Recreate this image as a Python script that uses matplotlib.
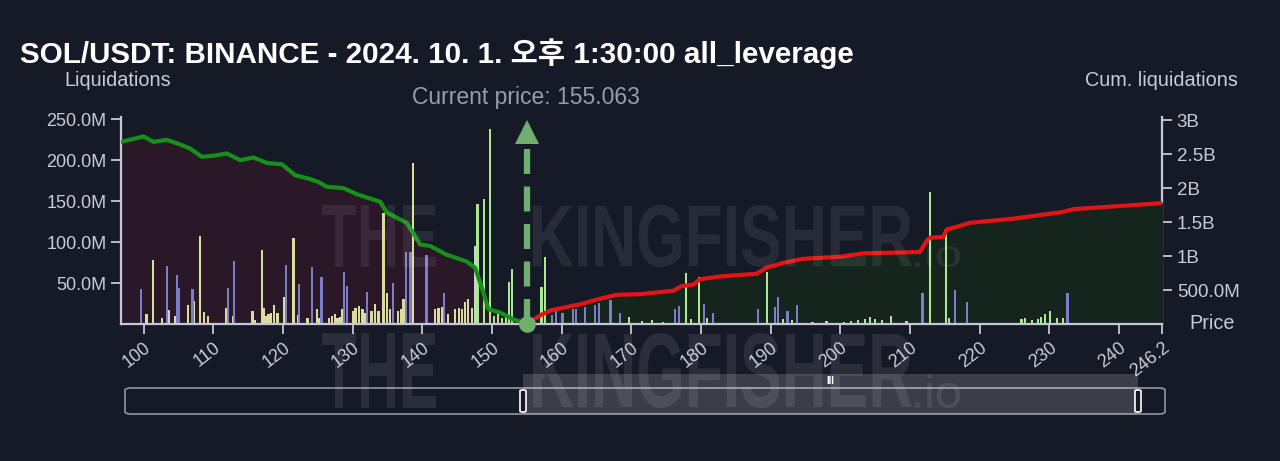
import numpy as np
import matplotlib.pyplot as plt
from matplotlib.patches import FancyBboxPatch, Rectangle, PathPatch
from matplotlib.textpath import TextPath
from matplotlib.font_manager import FontProperties
from matplotlib.transforms import Affine2D

plt.rcParams['font.family'] = ['Liberation Sans', 'Noto Sans CJK KR', 'DejaVu Sans']

BG = '#161a27'
AXC = '#c4c8d4'
W, H = 1280, 461

current_price = 155.063
title = 'SOL/USDT: BINANCE - 2024. 10. 1. 오후 1:30:00 all_leverage'

# liquidation bars (M), by colour
yellow_price = [100.4, 101.3, 102.6, 104.5, 106.3, 107.2, 108.1, 108.7, 109.2, 111.8, 112.8, 115.6,
                116.0, 117.0, 117.3, 117.6, 117.9, 118.3, 118.7, 119.2, 120.2, 121.5, 122.1, 123.5,
                124.9, 125.2, 126.6, 127.0, 127.4, 127.8, 128.2, 128.5, 130.0, 130.4, 130.9, 131.4,
                131.8, 132.7, 133.2, 133.7, 134.4, 134.9, 135.4, 136.5, 136.9, 137.3, 138.6, 141.8,
                142.3, 142.8, 143.7, 144.7, 145.2, 145.7, 146.1, 146.6, 147.1]
yellow_value = [12, 78, 7, 10, 23, 28, 107, 15, 10, 20, 10, 16,
                5, 90, 20, 10, 12, 13, 23, 14, 33, 105, 11, 8,
                18, 8, 7, 10, 12, 8, 9, 19, 16, 20, 22, 18,
                13, 16, 24, 16, 135, 38, 18, 16, 18, 30, 197, 19,
                20, 21, 12, 18, 20, 18, 27, 31, 20]
purple_price = [99.6, 103.3, 104.8, 105.1, 107.0, 112.1, 113.0, 120.4, 122.3, 124.1, 125.5, 128.8,
                129.2, 132.0, 135.8, 137.6, 138.3, 140.6, 143.1,
                158.6, 159.2, 160.1, 161.6, 162.1, 163.3, 164.8, 165.3, 167.0, 168.4, 176.3, 176.8,
                180.4, 181.7, 188.2, 190.6, 191.0, 192.4, 193.8, 211.8, 216.4, 218.2, 232.6]
purple_value = [43, 71, 60, 44, 43, 44, 77, 72, 49, 69, 57, 63,
                47, 39, 50, 88, 88, 84, 38,
                11, 16, 13, 19, 19, 21, 23, 26, 29, 14, 19, 22,
                24, 14, 18, 21, 33, 16, 23, 38, 41, 27, 38]
white_price = [103.6, 147.6]
white_value = [17, 95]
green_price = [147.9, 148.8, 149.7, 150.3, 150.9, 151.4, 152.0, 152.4, 152.9,
               157.1, 157.6, 169.7, 171.5, 173.0, 174.5, 177.8, 178.6, 179.7, 180.9, 189.5, 191.8,
               193.0, 196.0, 198.0, 200.5, 201.5, 202.5, 203.5, 204.3, 205.0, 206.0, 207.3, 209.5,
               212.9, 215.2, 215.6, 226.0, 226.5, 227.5, 228.4, 228.8, 229.4, 230.1, 231.1, 232.0]
green_value = [147, 152, 238, 10, 14, 8, 12, 51, 67,
               45, 82, 9, 4, 5, 3, 62, 6, 58, 8, 64, 6,
               5, 3, 4, 3, 4, 5, 6, 9, 6, 5, 10, 4,
               161, 114, 7, 6, 8, 5, 6, 9, 12, 16, 7, 8]

# cumulative liquidations (B)
short_x = [96.73, 99.97, 101.4, 103.3, 105.0, 106.7, 108.35, 110.26, 111.94, 113.85, 115.75,
           117.68, 119.83, 121.74, 123.64, 125.08, 126.28, 128.67, 130.59, 133.93, 134.89,
           137.76, 139.67, 141.1, 143.5, 146.37, 147.56, 148.52, 149.47, 151.15, 153.06,
           154.49, 155.063]
short_y = [2.68, 2.76, 2.68, 2.71, 2.65, 2.58, 2.46, 2.48, 2.51, 2.41, 2.45,
           2.37, 2.35, 2.19, 2.14, 2.09, 2.02, 2.00, 1.91, 1.80, 1.64,
           1.49, 1.17, 1.15, 1.02, 0.92, 0.83, 0.54, 0.22, 0.17, 0.07,
           0.02, 0.0]
long_x = [155.063, 156.93, 158.36, 160.23, 162.63, 165.02, 167.89, 171.23, 176.01, 177.22,
          178.88, 179.84, 182.71, 187.98, 189.41, 191.79, 194.66, 199.93, 203.27, 211.4,
          212.37, 212.84, 214.75, 215.24, 216.67, 218.58, 224.79, 231.97, 233.4, 239.14, 246.2]
long_y = [0.0, 0.13, 0.20, 0.24, 0.29, 0.36, 0.43, 0.44, 0.49, 0.56,
          0.58, 0.66, 0.70, 0.74, 0.83, 0.90, 0.96, 0.99, 1.04, 1.06,
          1.22, 1.27, 1.28, 1.39, 1.43, 1.49, 1.55, 1.65, 1.69, 1.73, 1.78]

xticks = [100, 110, 120, 130, 140, 150, 160, 170, 180, 190, 200, 210, 220, 230, 240, 246.2]
xticklabels = ['100', '110', '120', '130', '140', '150', '160', '170', '180', '190', '200',
               '210', '220', '230', '240', '246.2']
lticks = [50, 100, 150, 200, 250]
lticklabels = ['50.0M', '100.0M', '150.0M', '200.0M', '250.0M']
rticks = [0.5, 1, 1.5, 2, 2.5, 3]
rticklabels = ['500.0M', '1B', '1.5B', '2B', '2.5B', '3B']

k = 82.9  # M of left axis per B of right axis

fig = plt.figure(figsize=(12.8, 4.61), dpi=100, facecolor=BG)
ax = fig.add_axes([0.0945, 0.297, 0.8135, 0.449], facecolor=BG)

sx = np.array(short_x)
sy = np.array(short_y) * k
lx = np.array(long_x)
ly = np.array(long_y) * k

ax.fill_between(sx, 0, sy, color='#2a1828', zorder=1)
ax.fill_between(lx, 0, ly, color='#15251e', zorder=1)

bw = 0.32
ax.bar(yellow_price, yellow_value, width=bw, color='#d9de9e', zorder=2)
ax.bar(purple_price, purple_value, width=bw, color='#7d7ec8', zorder=2)
ax.bar(white_price, white_value, width=bw, color='#cdd0dc', zorder=2)
ax.bar(green_price, green_value, width=bw, color='#a9ea90', zorder=2)

ax.plot(sx, sy, color='#17901a', lw=3, zorder=4, solid_capstyle='round')
ax.plot(lx, ly, color='#e41414', lw=3, zorder=4, solid_capstyle='round')

# current price arrow
top = 248
ax.plot([current_price, current_price], [0, top - 20], color='#6fae6f', lw=4.5,
        dashes=(4, 2), zorder=5, clip_on=False)
ax.plot([current_price], [top - 14], marker='^', ms=17, color='#6fae6f', zorder=5, clip_on=False,
        markeredgewidth=0)
ax.plot([current_price], [0], marker='o', ms=12, color='#6fae6f', zorder=6, clip_on=False,
        markeredgewidth=0)

ax.set_xlim(96.73, 246.2)
ax.set_ylim(0, 252.4)
ax.set_xticks(xticks)
ax.set_xticklabels(xticklabels, rotation=38, ha='right', rotation_mode='anchor')
ax.set_yticks(lticks)
ax.set_yticklabels(lticklabels)
ax.tick_params(colors=AXC, labelcolor='#c8ccd6', labelsize=13, length=7, width=1.3)
ax.tick_params(axis='x', pad=4)
for s in ['top', 'right']:
    ax.spines[s].set_visible(False)
for s in ['left', 'bottom']:
    ax.spines[s].set_color(AXC)
    ax.spines[s].set_linewidth(1.6)

sec = ax.secondary_yaxis('right', functions=(lambda v: v / k, lambda v: v * k))
sec.set_yticks(rticks)
sec.set_yticklabels(rticklabels)
sec.tick_params(colors=AXC, labelcolor='#c8ccd6', labelsize=13.5, length=7, width=1.3)
sec.spines['right'].set_color(AXC)
sec.spines['right'].set_linewidth(1.6)

# texts
fig.text(0.016, 0.883, title, color='white', fontsize=21.3, fontweight='bold', va='center')
fig.text(0.092, 0.826, 'Liquidations', color='#c8ccd6', fontsize=14.3, ha='center', va='center')
fig.text(0.907, 0.826, 'Cum. liquidations', color='#c8ccd6', fontsize=14.3, ha='center',
         va='center')
fig.text(0.411, 0.789, 'Current price: 155.063', color='#9a9da8', fontsize=16.5, ha='center',
         va='center')
fig.text(0.947, 0.299, 'Price', color='#c8ccd6', fontsize=14.3, ha='center', va='center')


# watermarks, squeezed into a pixel box (x0, x1, top, bottom from the top edge)
def stamp(s, x0, x1, ytop, ybot, alpha, bold=True):
    prop = FontProperties(family='Liberation Sans', weight='bold' if bold else 'normal')
    tp = TextPath((0, 0), s, size=1, prop=prop)
    e = tp.get_extents()
    tr = (Affine2D().translate(-e.x0, -e.y0)
          .scale((x1 - x0) / e.width / W, (ybot - ytop) / e.height / H)
          .translate(x0 / W, (H - ybot) / H) + fig.transFigure)
    fig.patches.append(PathPatch(tp, transform=tr, fc='white', ec='none', alpha=alpha, zorder=3))


for (ytop, ybot, a) in [(205, 267, 0.075), (333, 408, 0.09)]:
    stamp('THE', 322, 436, ytop, ybot, a)
    stamp('KINGFISHER', 533, 912, ytop, ybot, a)
    hh = (ybot - ytop) * 0.45
    stamp('.io', 915, 960, ybot - hh, ybot, a, bold=False)

# range slider
fig.patches.append(FancyBboxPatch((125 / W, 47 / H), 1040 / W, 26 / H,
                                  boxstyle='round,pad=0,rounding_size=0.005',
                                  transform=fig.transFigure, fc=BG, ec='#8a8e9a', lw=1.3))
fig.patches.append(Rectangle((523 / W, 47 / H), 615 / W, 40 / H,
                             transform=fig.transFigure, fc='white', alpha=0.16, ec='none'))
for hx in [523, 1138]:
    fig.patches.append(FancyBboxPatch(((hx - 3) / W, 49 / H), 6 / W, 22 / H,
                                      boxstyle='round,pad=0,rounding_size=0.002',
                                      transform=fig.transFigure, fc=BG, ec='white', lw=1.2))
fig.text(830 / W, 80 / H, 'III', color='white', fontsize=7, ha='center', va='center',
         fontweight='bold')

fig.savefig('out.png', dpi=100, facecolor=BG)
